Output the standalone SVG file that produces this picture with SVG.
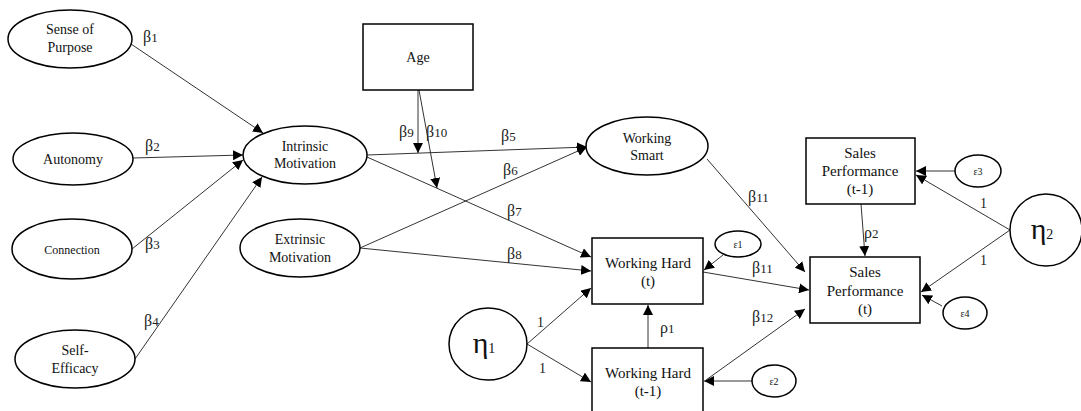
<svg xmlns="http://www.w3.org/2000/svg" width="1081" height="411" viewBox="0 0 1081 411" font-family="Liberation Serif">
<defs>
<marker id="ah" viewBox="0 0 10 10" refX="10" refY="5" markerWidth="10" markerHeight="10" markerUnits="userSpaceOnUse" orient="auto"><path d="M0,0 L10,5 L0,10 z" fill="#000"/></marker>
<style>
.n{fill:#fff;stroke:#000;stroke-width:1.5}
.t{font-size:14px;fill:#111;text-anchor:middle}
.b{font-size:15px}
.s{font-size:12px}
.e{font-size:10px}
.g{font-size:30px}
.l{font-size:16px;fill:#222}
.one{font-size:14px}
.c{stroke:#333;stroke-width:1;fill:none;marker-end:url(#ah)}
</style>
</defs>
<rect width="1081" height="411" fill="#fff"/>
<g id="connectors">
<line class="c" x1="131" y1="44" x2="263" y2="133"/>
<line class="c" x1="133" y1="158" x2="243" y2="155"/>
<line class="c" x1="132" y1="249" x2="243" y2="160"/>
<line class="c" x1="135" y1="359" x2="262" y2="177"/>
<line class="c" x1="367" y1="155" x2="587" y2="147"/>
<line class="c" x1="360" y1="248" x2="587" y2="147"/>
<line class="c" x1="367" y1="157" x2="591" y2="257"/>
<line class="c" x1="360" y1="248" x2="591" y2="271"/>
<line class="c" x1="418" y1="90" x2="418" y2="153"/>
<line class="c" x1="419" y1="90" x2="437" y2="188"/>
<line class="c" x1="527" y1="344" x2="591" y2="288"/>
<line class="c" x1="527" y1="344" x2="591" y2="382"/>
<line class="c" x1="648" y1="348" x2="648" y2="305"/>
<line class="c" x1="723" y1="255" x2="704" y2="270"/>
<line class="c" x1="752" y1="381" x2="704" y2="381"/>
<line class="c" x1="707" y1="159" x2="805" y2="272"/>
<line class="c" x1="703" y1="272" x2="809" y2="290"/>
<line class="c" x1="706" y1="380" x2="805" y2="309"/>
<line class="c" x1="861" y1="204" x2="865" y2="256"/>
<line class="c" x1="955" y1="171" x2="916" y2="171"/>
<line class="c" x1="1010" y1="230" x2="916" y2="175"/>
<line class="c" x1="1010" y1="230" x2="921" y2="292"/>
<line class="c" x1="942" y1="306" x2="922" y2="295"/>
</g>
<g id="labels">
<text class="l" x="143" y="42">β<tspan font-size="13">1</tspan></text>
<text class="l" x="145" y="151">β<tspan font-size="13">2</tspan></text>
<text class="l" x="145" y="249">β<tspan font-size="13">3</tspan></text>
<text class="l" x="144" y="326">β<tspan font-size="13">4</tspan></text>
<text class="l" x="501" y="141">β<tspan font-size="13">5</tspan></text>
<text class="l" x="503" y="175">β<tspan font-size="13">6</tspan></text>
<text class="l" x="507" y="216">β<tspan font-size="13">7</tspan></text>
<text class="l" x="507" y="259">β<tspan font-size="13">8</tspan></text>
<text class="l" x="399" y="137">β<tspan font-size="13">9</tspan></text>
<text class="l" x="426" y="137">β<tspan font-size="13">10</tspan></text>
<text class="l" x="748" y="202">β<tspan font-size="13">11</tspan></text>
<text class="l" x="752" y="273">β<tspan font-size="13">11</tspan></text>
<text class="l" x="752" y="322">β<tspan font-size="13">12</tspan></text>
<text class="l" x="660" y="333">ρ<tspan font-size="13">1</tspan></text>
<text class="l" x="864" y="238">ρ<tspan font-size="13">2</tspan></text>
<text class="l one" x="537" y="327">1</text>
<text class="l one" x="539" y="373">1</text>
<text class="l one" x="980" y="208">1</text>
<text class="l one" x="980" y="265">1</text>
</g>
<g id="sense-of-purpose"><ellipse class="n" cx="70" cy="39" rx="62" ry="29"/><text class="t" x="70" y="34">Sense of</text><text class="t" x="70" y="52">Purpose</text></g>
<g id="autonomy"><ellipse class="n" cx="73" cy="159" rx="60" ry="26"/><text class="t" x="73" y="164">Autonomy</text></g>
<g id="connection"><ellipse class="n" cx="72" cy="249" rx="60" ry="30"/><text class="t s" x="72" y="254">Connection</text></g>
<g id="self-efficacy"><ellipse class="n" cx="75" cy="359" rx="60" ry="29"/><text class="t" x="75" y="355">Self-</text><text class="t" x="75" y="373">Efficacy</text></g>
<g id="intrinsic-motivation"><ellipse class="n" cx="305" cy="155" rx="62" ry="29"/><text class="t" x="305" y="151">Intrinsic</text><text class="t" x="305" y="168">Motivation</text></g>
<g id="extrinsic-motivation"><ellipse class="n" cx="300" cy="248" rx="60" ry="29"/><text class="t" x="300" y="244">Extrinsic</text><text class="t" x="300" y="262">Motivation</text></g>
<g id="age"><rect class="n" x="363" y="24" width="110" height="66"/><text class="t" x="418" y="62">Age</text></g>
<g id="working-smart"><ellipse class="n" cx="647" cy="146" rx="61" ry="29"/><text class="t" x="647" y="143">Working</text><text class="t" x="647" y="160">Smart</text></g>
<g id="working-hard-t"><rect class="n" x="592" y="238" width="111" height="66"/><text class="t b" x="648" y="268">Working Hard</text><text class="t b" x="648" y="286">(t)</text></g>
<g id="working-hard-t1"><rect class="n" x="592" y="348" width="111" height="66"/><text class="t b" x="648" y="378">Working Hard</text><text class="t b" x="648" y="396">(t-1)</text></g>
<g id="eta1"><ellipse class="n" cx="488" cy="344" rx="39" ry="36"/><text class="t g" x="484" y="353">η<tspan font-size="14">1</tspan></text></g>
<g id="eps1"><ellipse class="n" cx="738" cy="244" rx="23" ry="13"/><text class="t e" x="738" y="248">ε1</text></g>
<g id="eps2"><ellipse class="n" cx="774" cy="381" rx="22" ry="16"/><text class="t e" x="774" y="385">ε2</text></g>
<g id="sales-t1"><rect class="n" x="806" y="138" width="109" height="66"/><text class="t b" x="860" y="158">Sales</text><text class="t b" x="860" y="176">Performance</text><text class="t b" x="860" y="194">(t-1)</text></g>
<g id="sales-t"><rect class="n" x="810" y="257" width="110" height="66"/><text class="t b" x="865" y="277">Sales</text><text class="t b" x="865" y="296">Performance</text><text class="t b" x="865" y="314">(t)</text></g>
<g id="eps3"><ellipse class="n" cx="978" cy="171" rx="23" ry="16"/><text class="t e" x="978" y="175">ε3</text></g>
<g id="eps4"><ellipse class="n" cx="965" cy="313" rx="22" ry="16"/><text class="t e" x="965" y="317">ε4</text></g>
<g id="eta2"><ellipse class="n" cx="1046" cy="230" rx="36" ry="36"/><text class="t g" x="1042" y="239">η<tspan font-size="14">2</tspan></text></g>
</svg>
